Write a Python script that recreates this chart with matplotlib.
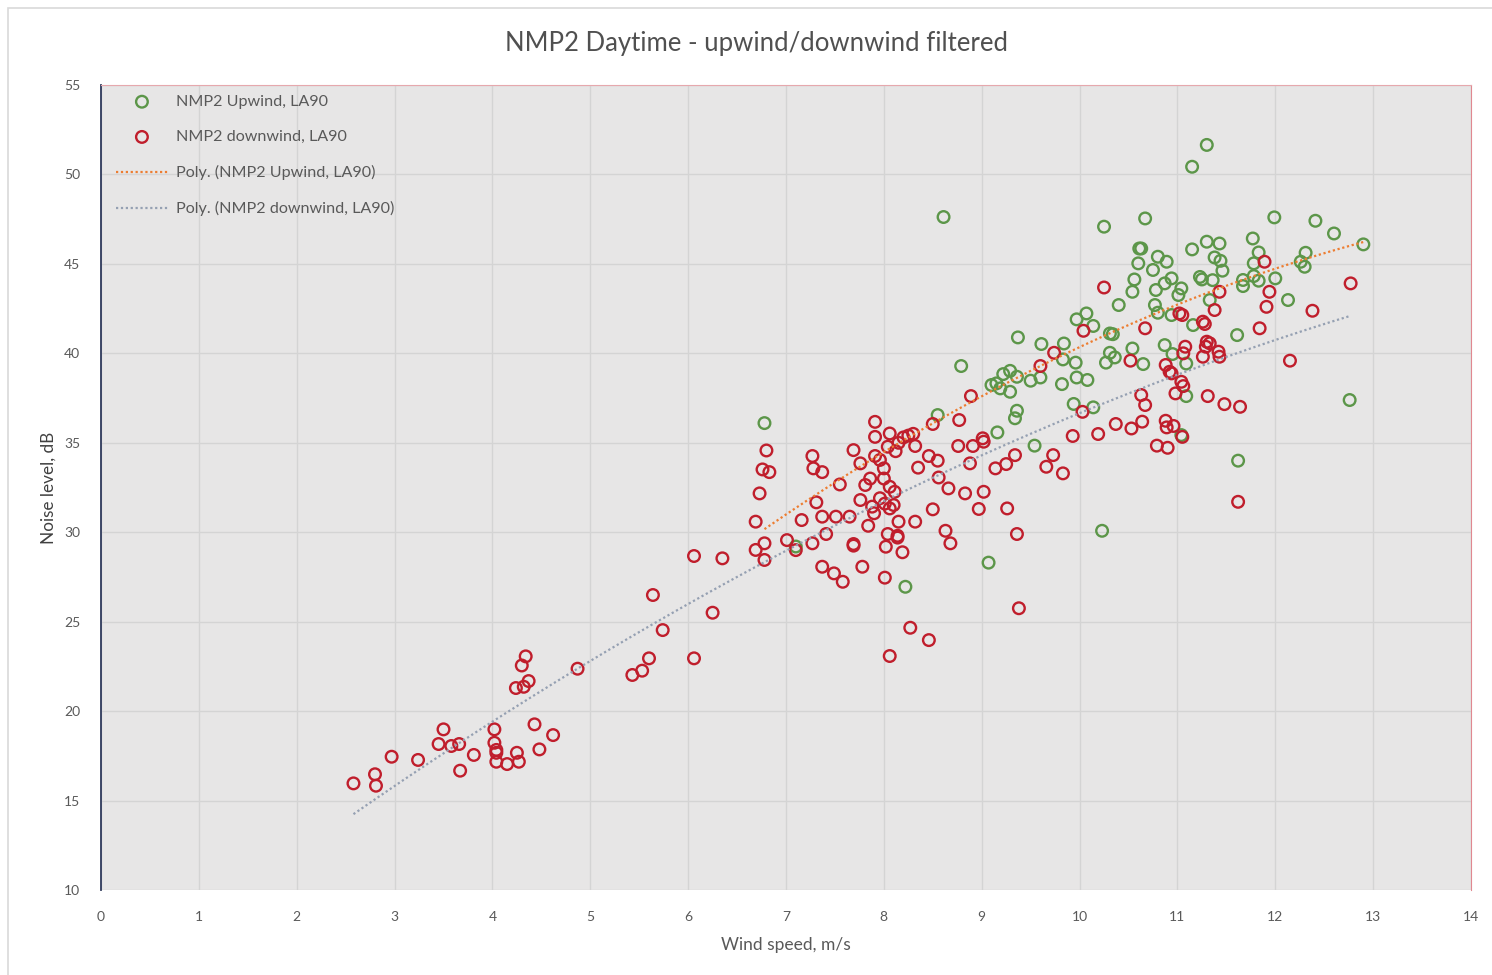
#!/usr/bin/env python3
"""NMP2 daytime noise vs wind speed, upwind/downwind filtered."""
import numpy as np

import matplotlib
matplotlib.use("Agg")
import matplotlib.pyplot as plt
from matplotlib.patches import Rectangle

plt.rcParams.update({"font.family": ["Lato", "DejaVu Sans"], "font.size": 10})

# upwind series (wind speed m/s, LA90 dB)
up_x = [6.78, 7.10, 8.22, 8.55, 8.61, 8.79, 9.07,
        9.10, 9.15, 9.19, 9.22, 9.29, 9.29, 9.36,
        9.16, 9.34, 9.36, 9.37, 9.50, 9.60, 9.54, 9.61, 9.82,
        9.83, 9.84, 9.96, 9.94, 9.97, 10.08, 10.14,
        9.97, 10.07, 10.14, 10.23, 10.25,
        10.27, 10.31, 10.36, 10.31, 10.34, 10.40, 10.54,
        10.54, 10.56, 10.60, 10.61, 10.63, 10.65, 10.67, 10.75,
        10.77, 10.80, 10.78, 10.87, 10.94, 11.04, 11.01,
        10.80, 10.89, 10.87, 10.94, 10.95, 11.04, 11.09, 11.09,
        11.15, 11.15, 11.16, 11.23, 11.25, 11.36,
        11.30, 11.43, 11.30, 11.33, 11.38, 11.44, 11.46,
        11.61, 11.62, 11.67, 11.67, 11.78, 11.83, 12.00,
        11.77, 11.83, 11.78, 11.99, 12.13, 12.26, 12.31, 12.30,
        12.41, 12.60, 12.76, 12.90]
up_y = [36.1, 29.2, 26.95, 36.55, 47.62, 39.29, 28.30,
        38.23, 38.32, 38.04, 38.84, 39.02, 37.85, 38.69,
        35.58, 36.37, 36.79, 40.89, 38.47, 38.65, 34.84, 40.52, 38.28,
        39.66, 40.55, 39.48, 37.17, 38.65, 38.51, 36.98,
        41.90, 42.23, 41.53, 30.08, 47.08,
        39.48, 40.03, 39.77, 41.11, 41.07, 42.70, 40.27,
        43.44, 44.13, 45.03, 45.86, 45.86, 39.40, 47.54, 44.66,
        42.70, 42.27, 43.54, 43.91, 44.19, 43.63, 43.26,
        45.40, 45.12, 40.46, 42.14, 39.96, 35.43, 39.43, 37.61,
        45.81, 50.43, 41.58, 44.27, 44.13, 44.09,
        46.24, 46.14, 51.65, 42.98, 45.36, 45.17, 44.62,
        41.02, 34.00, 44.10, 43.76, 44.32, 44.06, 44.19,
        46.42, 45.64, 45.03, 47.60, 42.98, 45.12, 45.62, 44.84,
        47.41, 46.70, 37.39, 46.09]

# downwind series
down_x = [2.58, 2.80, 2.81, 2.97, 3.24, 3.45, 3.50, 3.58, 3.66, 3.67,
          3.81, 4.02, 4.02, 4.04, 4.04, 4.04, 4.15, 4.25, 4.27, 4.24,
          4.32, 4.37, 4.30, 4.34, 4.43, 4.48, 4.62, 4.87, 5.43, 5.53,
          5.60, 5.64, 5.74, 6.06, 6.25, 6.06, 6.35,
          6.69, 6.69, 6.73, 6.76, 6.78, 6.78, 6.80, 6.83, 7.01, 7.10,
          7.16, 7.27, 7.28, 7.37, 7.31, 7.27, 7.37, 7.41, 7.51, 7.55,
          7.65, 7.69, 7.76, 7.91, 7.91, 8.06, 8.15, 8.20, 8.25, 8.30,
          8.04, 8.12, 7.91, 7.96, 7.86, 7.81, 8.00, 8.00, 8.06, 8.11,
          7.76, 7.88, 7.96, 8.01, 8.06, 8.10, 7.90, 7.84, 8.15, 8.32,
          8.04, 8.14, 8.14, 8.02, 8.19, 7.69, 7.69, 7.78, 7.37, 7.49,
          7.58, 8.01, 8.27, 8.46, 8.06, 9.38, 9.36, 8.50, 8.77, 8.89,
          8.76, 8.91, 9.01, 9.02, 8.55, 8.46, 8.35, 8.32, 8.56, 8.66,
          8.83, 8.88, 9.02, 9.14, 9.25, 9.34, 9.66, 9.73, 9.83, 9.93,
          8.50, 8.63, 8.68, 8.97, 9.26,
          9.60, 9.74, 10.03, 10.04, 10.19, 10.25, 10.37, 10.52, 10.53, 10.63,
          10.64, 10.67, 10.67, 10.79, 10.88, 10.89, 10.96, 10.90, 10.88, 10.92,
          10.94, 10.98, 11.04, 11.06, 11.05, 11.02, 11.05, 11.06, 11.08, 11.26,
          11.28, 11.26, 11.29, 11.30, 11.33, 11.38, 11.42, 11.43, 11.43, 11.31,
          11.48, 11.62, 11.64, 11.84, 11.89, 11.91, 11.94, 12.15, 12.38, 12.77]
down_y = [15.96, 16.47, 15.83, 17.45, 17.27, 18.16, 18.98, 18.05, 18.16, 16.67,
          17.55, 18.98, 18.23, 17.83, 17.67, 17.17, 17.04, 17.67, 17.17, 21.29,
          21.36, 21.68, 22.55, 23.06, 19.26, 17.86, 18.66, 22.37, 22.02, 22.26,
          22.95, 26.49, 24.53, 22.95, 25.50, 28.67, 28.54,
          30.59, 29.01, 32.17, 33.51, 29.38, 28.45, 34.57, 33.36, 29.56, 29.00,
          30.68, 34.26, 33.57, 33.36, 31.67, 29.38, 30.87, 29.90, 30.87, 32.67,
          30.87, 34.59, 33.85, 36.17, 35.33, 35.52, 35.00, 35.30, 35.40, 35.50,
          34.78, 34.53, 34.26, 34.04, 33.00, 32.64, 33.57, 33.00, 32.54, 32.26,
          31.80, 31.43, 31.90, 31.60, 31.33, 31.52, 31.06, 30.36, 30.59, 30.59,
          29.90, 29.80, 29.70, 29.19, 28.88, 29.34, 29.25, 28.07, 28.07, 27.70,
          27.23, 27.46, 24.66, 23.97, 23.08, 25.75, 29.90, 36.05, 36.27, 37.61,
          34.82, 34.82, 35.25, 35.06, 34.00, 34.26, 33.61, 34.82, 33.06, 32.45,
          32.17, 33.85, 32.26, 33.57, 33.81, 34.31, 33.66, 34.31, 33.29, 35.38,
          31.28, 30.08, 29.38, 31.30, 31.33,
          39.29, 40.03, 36.73, 41.26, 35.49, 43.68, 36.05, 39.59, 35.80, 37.67,
          36.18, 37.11, 41.40, 34.84, 36.23, 35.86, 35.94, 34.72, 39.35, 38.97,
          38.88, 37.76, 38.41, 38.17, 35.33, 42.23, 42.14, 40.00, 40.37, 41.77,
          41.64, 39.81, 40.37, 40.65, 40.56, 42.42, 40.09, 39.81, 43.44, 37.61,
          37.16, 31.70, 37.01, 41.40, 45.12, 42.60, 43.44, 39.59, 42.38, 43.91]

x_ticks = list(range(0, 15))
y_ticks = list(range(10, 56, 5))

GREEN = "#5c9649"
RED = "#c01e2c"
TXT = "#595959"

fig = plt.figure(figsize=(14.92, 9.75), dpi=100)
fig.patches.append(Rectangle((8 / 1492, -0.01), 1.02, 1 - 8 / 975 + 0.01,
                             transform=fig.transFigure, fill=False,
                             edgecolor="#d9d9d9", linewidth=1.2))
ax = fig.add_axes([101 / 1492, 1 - 890 / 975, 1370 / 1492, 805 / 975])
ax.set_facecolor("#e7e6e6")

ax.scatter(up_x, up_y, s=70, facecolors="none", edgecolors=GREEN,
           linewidths=1.7, label="NMP2 Upwind, LA90", zorder=3)
ax.scatter(down_x, down_y, s=70, facecolors="none", edgecolors=RED,
           linewidths=1.7, label="NMP2 downwind, LA90", zorder=3)

# 2nd order polynomial trendlines, as in the spreadsheet
for xs, ys, col, lab in [(up_x, up_y, "#ed7d31", "Poly. (NMP2 Upwind, LA90)"),
                         (down_x, down_y, "#95a0b2", "Poly. (NMP2 downwind, LA90)")]:
    c = np.polyfit(xs, ys, 2)
    xx = np.linspace(min(xs), max(xs), 200)
    ax.plot(xx, np.polyval(c, xx), linestyle=(0, (1, 1.2)), color=col,
            linewidth=1.6, label=lab, zorder=4)

ax.set_xlim(0, 14)
ax.set_ylim(10, 55)
ax.set_xticks(x_ticks)
ax.set_yticks(y_ticks)
ax.tick_params(length=0, labelsize=10, labelcolor=TXT, pad=15)
ax.grid(color="#d4d4d4", linewidth=1.0)
ax.set_axisbelow(True)
ax.spines["left"].set_color("#2f3a5c")
ax.spines["left"].set_linewidth(1.3)
ax.spines["top"].set_color("#e6a8ad")
ax.spines["right"].set_color("#e08890")
ax.spines["bottom"].set_visible(False)

ax.set_xlabel("Wind speed, m/s", fontsize=12.5, color=TXT, labelpad=10)
ax.set_ylabel("Noise level, dB", fontsize=12.3, color="#404040", labelpad=5)
fig.text(0.507, 1 - 43 / 975, "NMP2 Daytime - upwind/downwind filtered",
         ha="center", va="center", fontsize=18.5, color="#505050")

leg = ax.legend(loc="upper left", bbox_to_anchor=(0.004, 1.0), frameon=False,
                fontsize=11.6, labelcolor=TXT, handlelength=3.2,
                handletextpad=0.5, labelspacing=1.3, borderaxespad=0.2)

fig.savefig("out.png", dpi=100)
